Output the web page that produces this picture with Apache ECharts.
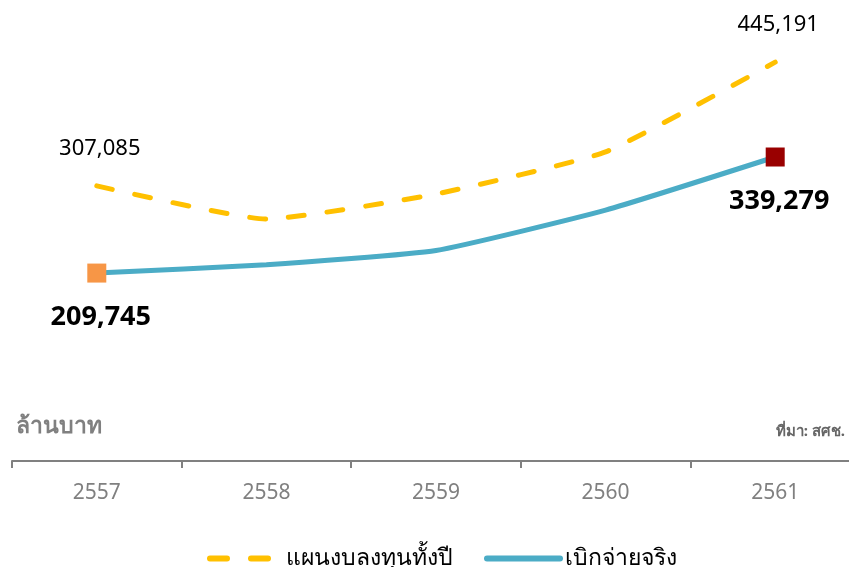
<!DOCTYPE html>
<html>
<head>
<meta charset="utf-8">
<script src="https://cdn.jsdelivr.net/npm/echarts@6/dist/echarts.min.js"></script>
<style>
  html, body { margin: 0; padding: 0; background: #fff; }
  #chart { width: 849px; height: 567px; }
</style>
</head>
<body>
<div id="chart"></div>
<script>
const years = ['2557', '2558', '2559', '2560', '2561']
const planValues = [307085, 270000, 298000, 345000, 445191]
const spentValues = [209745, 219000, 235000, 280000, 339279]
const planName = 'แผนงบลงทุนทั้งปี'
const spentName = 'เบิกจ่ายจริง'

const fmt = v => v.toLocaleString('en-US')
const font = '"Noto Sans", "Open Sans", sans-serif'
const last = years.length - 1
const gold = '#FFC000'
const teal = '#4BACC6'

const planData = planValues.map((v, i) => {
  if (i !== 0 && i !== last) return v
  return {
    value: v,
    symbol: 'circle',
    symbolSize: 0,
    label: {
      show: true,
      position: 'top',
      distance: 26,
      offset: [3, 0],
      formatter: p => fmt(p.value),
      fontSize: 22,
      color: '#000',
      fontFamily: font
    }
  }
})

const endColors = ['#F79646', '#990000']
const spentData = spentValues.map((v, i) => {
  if (i !== 0 && i !== last) return v
  return {
    value: v,
    symbol: 'rect',
    symbolSize: 19,
    itemStyle: { color: i === 0 ? endColors[0] : endColors[1] },
    label: {
      show: true,
      position: 'bottom',
      distance: 21,
      offset: [4, 0],
      formatter: p => fmt(p.value),
      fontSize: 27,
      fontWeight: 'bold',
      color: '#000',
      fontFamily: font
    }
  }
})

const legendBase = {
  top: 547,
  padding: 0,
  itemHeight: 6,
  itemStyle: { opacity: 0 },
  textStyle: { fontSize: 23, color: '#000', fontFamily: font }
}

const chart = echarts.init(document.getElementById('chart'))
chart.setOption({
  animation: false,
  grid: { left: 12, width: 848, top: 13, bottom: 106, containLabel: false, outerBoundsMode: 'none' },
  legend: [
    Object.assign({}, legendBase, {
      left: 207,
      itemWidth: 63,
      data: [planName],
      lineStyle: { color: gold, width: 6, type: [17, 24], cap: 'round' },
      textStyle: Object.assign({}, legendBase.textStyle, { padding: [0, 0, 0, 8] })
    }),
    Object.assign({}, legendBase, {
      left: 484,
      itemWidth: 73,
      data: [spentName],
      lineStyle: { color: teal, width: 6, cap: 'round' }
    })
  ],
  xAxis: {
    type: 'category',
    data: years,
    boundaryGap: true,
    axisLine: { lineStyle: { color: '#808080', width: 2 } },
    axisTick: { show: true, length: 7, lineStyle: { color: '#808080', width: 2 } },
    axisLabel: { color: '#808080', fontSize: 21, margin: 22, fontFamily: font }
  },
  yAxis: {
    type: 'value',
    min: 0,
    max: 500000,
    show: false,
    splitLine: { show: false }
  },
  graphic: [
    {
      type: 'text', left: 16, top: 415,
      style: { text: 'ล้านบาท', fontSize: 23, fontWeight: 'bold', fill: '#808080', fontFamily: font }
    },
    {
      type: 'text', right: 4, top: 424,
      style: { text: 'ที่มา: สศช.', fontSize: 15, fontWeight: 'bold', fill: '#666', fontFamily: font }
    }
  ],
  series: [
    {
      name: planName,
      type: 'line',
      data: planData,
      smooth: 0.15,
      symbol: 'none',
      itemStyle: { color: gold },
      lineStyle: { color: gold, width: 5, type: [16, 23], cap: 'round' },
      label: { show: false },
      z: 2
    },
    {
      name: spentName,
      type: 'line',
      data: spentData,
      smooth: 0.15,
      symbol: 'none',
      itemStyle: { color: teal },
      lineStyle: { color: teal, width: 5, cap: 'round' },
      label: { show: false },
      z: 3
    }
  ]
})
</script>
</body>
</html>
